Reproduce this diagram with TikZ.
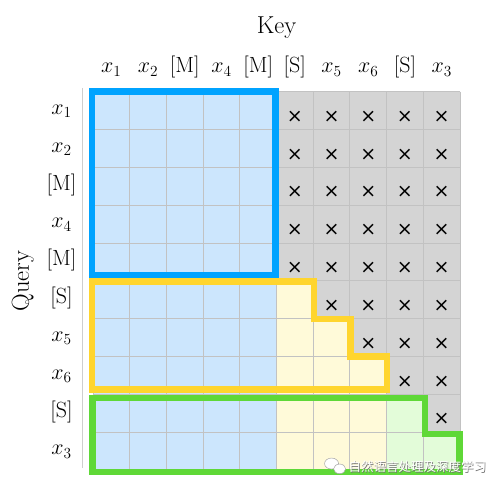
\documentclass[tikz,border=0pt]{standalone}
\usepackage{fix-cm}
\usepackage{fontspec}
\newfontfamily\symfont{DejaVu Sans}
\newfontfamily\cjkfont{Noto Sans CJK SC}
\usetikzlibrary{positioning}
\definecolor{frameblue}{HTML}{00A3FF}
\definecolor{frameyellow}{HTML}{FFD52E}
\definecolor{framegreen}{HTML}{5FD837}
\definecolor{fillblue}{HTML}{CCE6FD}
\definecolor{fillyellow}{HTML}{FFFAD9}
\definecolor{fillgreen}{HTML}{E3FCD9}
\definecolor{maskgray}{HTML}{D4D4D4}
\definecolor{gridgray}{HTML}{C2C2C2}
\tikzset{
  lbl/.style={anchor=base,inner sep=0pt,font=\fontsize{22}{26}\selectfont},
  cross/.style={inner sep=0pt,font=\symfont\fontsize{19}{19}\selectfont},
  frame/.style={line width=6.7pt,miter limit=10},
  wm/.style={inner sep=0pt,font=\cjkfont\fontsize{12.5}{13}\selectfont}
}
\begin{document}
\begin{tikzpicture}[x=36.7pt,y=-37.83pt]
  \useasboundingbox (-93pt,91.7pt) rectangle (405pt,-397.3pt);
  % cells
  \foreach \r/\m in {0/4,1/4,2/4,3/4,4/4,5/5,6/6,7/7,8/8,9/9}{
    \foreach \c in {0,...,9}{
      \ifnum\c>\m
        \fill[maskgray] (\c,\r) rectangle ++(1,1);
        \node[cross] (m\r\c) at (\c+0.5,\r+0.66) {×};
      \else\ifnum\c<5
        \fill[fillblue] (\c,\r) rectangle ++(1,1);
      \else\ifnum\c<8
        \fill[fillyellow] (\c,\r) rectangle ++(1,1);
      \else
        \fill[fillgreen] (\c,\r) rectangle ++(1,1);
      \fi\fi\fi
    }
  }
  \foreach \i in {0,...,10}{
    \draw[gridgray,line width=0.9pt] (\i,0) -- (\i,10);
    \draw[gridgray,line width=0.9pt] (0,\i) -- (10,\i);
  }
  \draw[gridgray!80,line width=0.9pt] (-0.28,-0.1) -- (-0.28,9.95);
  % frames
  \draw[frame,frameblue] (-0.03,0) rectangle (4.97,4.85);
  \draw[frame,frameyellow] (-0.03,5.02) -- (6.02,5.02) -- (6.02,6.01) -- (7.02,6.01)
    -- (7.02,7) -- (8.01,7) -- (8.01,7.88) -- (-0.03,7.88) -- cycle;
  \draw[frame,framegreen] (-0.02,8.1) -- (9.05,8.1) -- (9.05,9.05) -- (9.98,9.05)
    -- (9.98,10.05) -- (-0.02,10.05) -- cycle;
  % labels
  \node[lbl,font=\fontsize{24.5}{28}\selectfont] (key) at (5,-1.54) {Key};
  \node[inner sep=0pt,rotate=90,font=\fontsize{24.5}{28}\selectfont] (query) at (-1.91,5) {Query};
  \foreach \c/\t in {0/$x_1$,1/$x_2$,2/{[M]},3/$x_4$,4/{[M]},5/{[S]},6/$x_5$,7/$x_6$,8/{[S]},9/$x_3$}{
    \node[lbl] (k\c) at (\c+0.5,-0.5) {\t};
    \node[lbl] (q\c) at (-0.86,\c+0.6) {\t};
  }
  % watermark
  \fill[white,draw=black!35,line width=0.5pt] (6.5,9.83) ellipse (7pt and 5.5pt);
  \fill[white,draw=black!35,line width=0.5pt] (6.72,9.97) ellipse (6pt and 4.8pt);
  \node[wm,text=black!55] (wmshadow) at ([shift={(0.7pt,-0.7pt)}]8.84,9.91) {自然语言处理及深度学习};
  \node[wm,text=white] (wm) at (8.84,9.91) {自然语言处理及深度学习};
\end{tikzpicture}
\end{document}
